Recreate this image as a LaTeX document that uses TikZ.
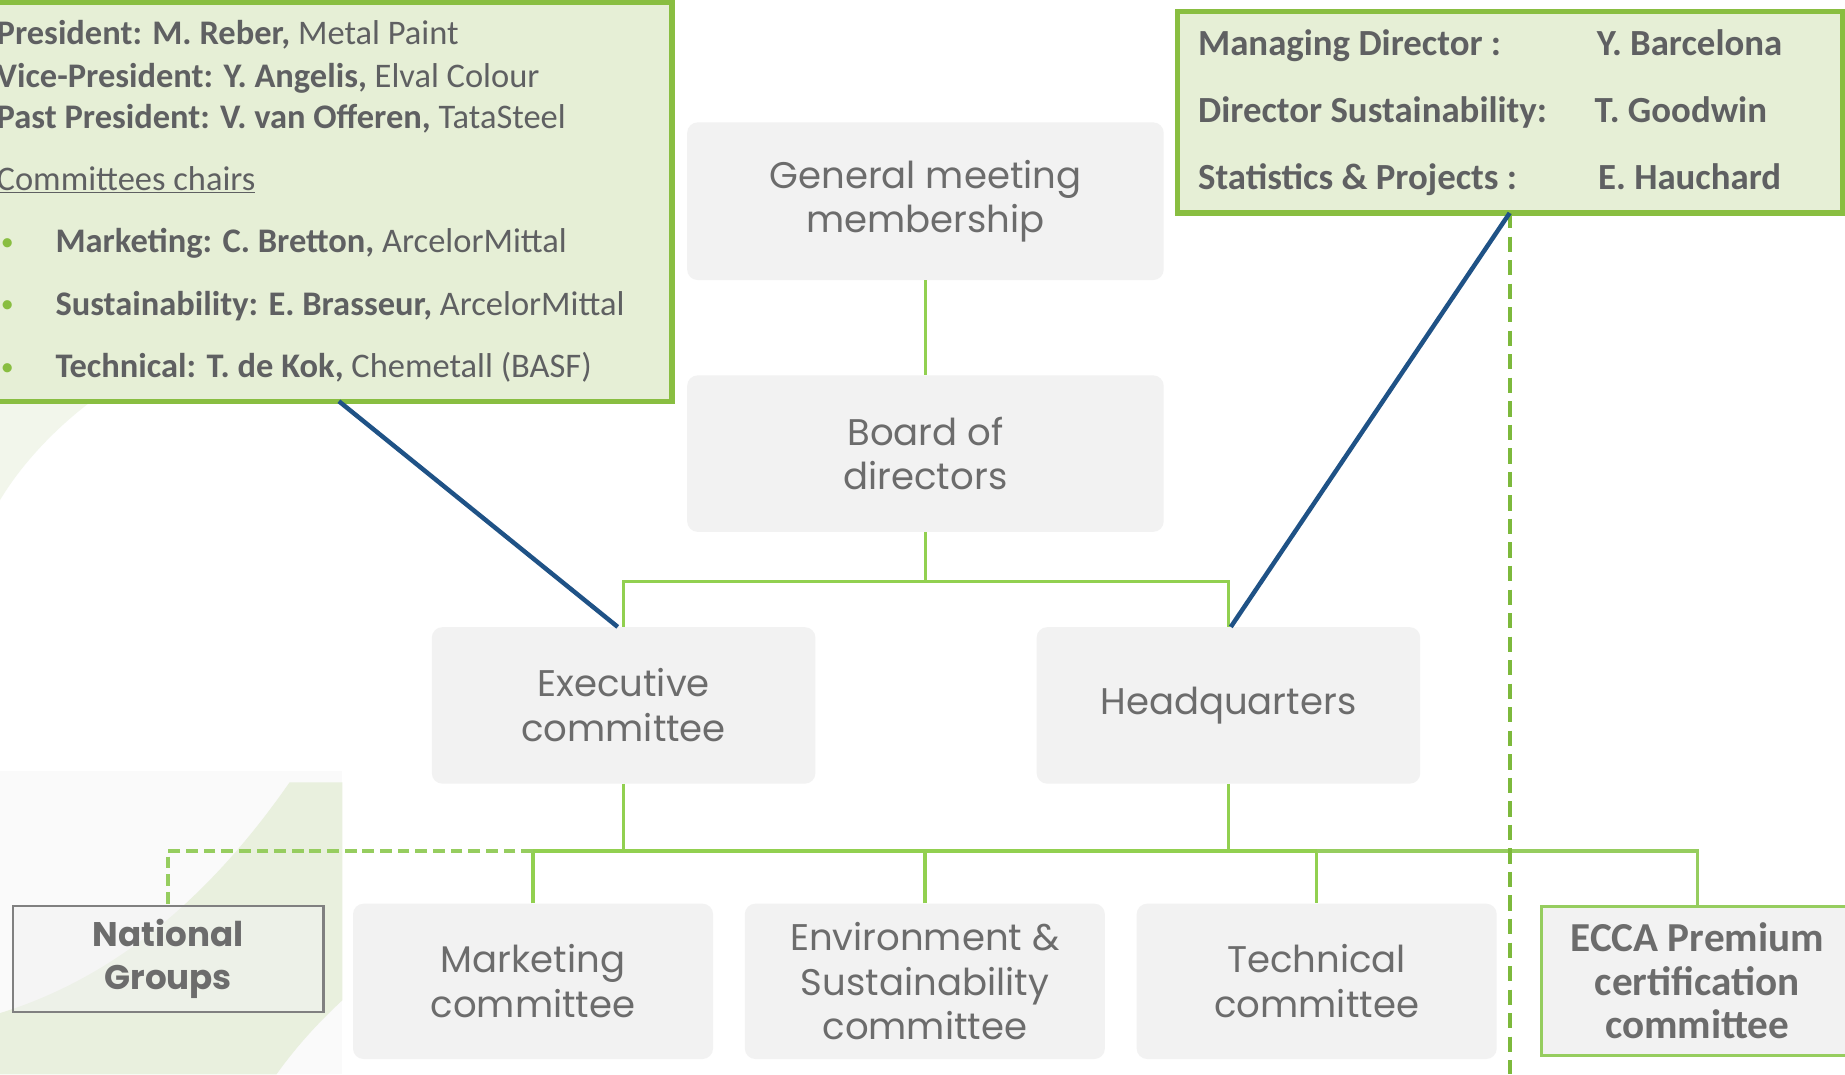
\documentclass[tikz,border=0pt]{standalone}
\usepackage{fontspec}
\setmainfont{Carlito}
\newfontfamily\gothic{Poppins}
\usetikzlibrary{calc}
\definecolor{lgreen}{RGB}{230,239,214}
\definecolor{bgreen}{RGB}{137,190,65}
\definecolor{lime}{RGB}{146,208,80}
\definecolor{lime2}{RGB}{150,205,95}
\definecolor{dgreen}{RGB}{125,185,60}
\definecolor{boxgray}{RGB}{242,242,242}
\definecolor{txtgray}{RGB}{108,108,108}
\definecolor{dtxt}{RGB}{95,96,98}
\definecolor{navy}{RGB}{31,82,134}
\definecolor{swoosh}{RGB}{233,240,222}
\tikzset{
  graybox/.style={rectangle, rounded corners=9pt, fill=boxgray, align=center, text=txtgray,
    font=\gothic\fontsize{31.5}{38}\selectfont, inner sep=0pt},
  link/.style={draw=lime, line width=3pt},
  link2/.style={draw=lime2, line width=3pt},
  dashlink/.style={draw=lime2, line width=3pt, dash pattern=on 10pt off 5pt},
  vdash/.style={draw=dgreen, line width=3.5pt, dash pattern=on 13pt off 7pt},
  callout/.style={draw=navy, line width=3.8pt},
  infobox/.style={rectangle, draw=bgreen, line width=4.5pt, fill=lgreen, inner sep=0pt},
  infotext/.style={anchor=base west, inner sep=0pt, text=dtxt, font=\fontsize{29.3}{35}\selectfont},
  hqtext/.style={anchor=base west, inner sep=0pt, text=dtxt, font=\bfseries\fontsize{31.3}{37}\selectfont},
  bullet/.style={anchor=base west, inner sep=0pt, text=bgreen, font=\fontsize{22}{35}\selectfont}
}
\begin{document}
\begin{tikzpicture}[x=1pt,y=-1pt]
\useasboundingbox (0,0) rectangle (1568,913);
\fill[white] (0,0) rectangle (1568,913);
% background swooshes
\fill[black!2] (0,655) rectangle (291,913);
\fill[swoosh] (246,665) .. controls (180,760) and (100,830) .. (0,861) -- (0,913) -- (235,913)
  .. controls (255,885) and (275,865) .. (291,850) -- (291,665) -- cycle;
\fill[swoosh!60] (0,343) -- (75,343) .. controls (40,370) and (15,400) .. (0,425) -- cycle;

% info boxes
\node[infobox, minimum width=585pt, minimum height=339pt] (lb) at (278.5,171.5) {};
\node[infobox, minimum width=565pt, minimum height=171pt] (rb) at (1283.5,95.5) {};

% left box text
\node[infotext] (l1) at (-3,38) {\textbf{President: M. Reber,} Metal Paint};
\node[infotext] (l2) at (-3,74) {\textbf{Vice-President: Y. Angelis,} Elval Colour};
\node[infotext] (l3) at (-3,109) {\textbf{Past President: V. van Offeren,} TataSteel};
\node[infotext] (l4) at (-3,162) {\underline{Committees chairs}};
\node[bullet] (b1) at (0.5,213) {•};
\node[bullet] (b2) at (0.5,266) {•};
\node[bullet] (b3) at (0.5,319) {•};
\node[infotext] (l5) at (47,215) {\textbf{Marketing: C. Bretton,} ArcelorMittal};
\node[infotext] (l6) at (47,268) {\textbf{Sustainability: E. Brasseur,} ArcelorMittal};
\node[infotext] (l7) at (47,321) {\textbf{Technical: T. de Kok,} Chemetall (BASF)};

% right box text
\node[hqtext] (r1) at (1018,47) {Managing Director :};
\node[hqtext] (r2) at (1018,104) {Director Sustainability:};
\node[hqtext] (r3) at (1018,161) {Statistics \& Projects :};
\node[hqtext] (n1) at (1357,47) {Y. Barcelona};
\node[hqtext] (n2) at (1355,104) {T. Goodwin};
\node[hqtext] (n3) at (1358,161) {E. Hauchard};

% gray boxes
\node[graybox, minimum width=405pt, minimum height=134pt] (gm) at (786.5,171) {General meeting\\membership};
\node[graybox, minimum width=405pt, minimum height=133pt] (bod) at (786.5,385.5) {Board of\\directors};
\node[graybox, minimum width=326pt, minimum height=133pt] (exec) at (530,599.5) {Executive\\committee};
\node[graybox, minimum width=326pt, minimum height=133pt] (hq) at (1044,599.5) {Headquarters};
\node[graybox, minimum width=306pt, minimum height=132pt] (mkt) at (453,834) {Marketing\\committee};
\node[graybox, minimum width=306pt, minimum height=132pt] (env) at (786,834) {Environment \&\\Sustainability\\committee};
\node[graybox, minimum width=306pt, minimum height=132pt] (tech) at (1119,834) {Technical\\committee};
\node[rectangle, draw=black!50, line width=2pt, fill=boxgray, fill opacity=0.55, text opacity=1,
  minimum width=264pt, minimum height=90pt, align=center, text=txtgray, inner sep=0pt,
  font=\gothic\bfseries\fontsize{29}{37}\selectfont] (nat) at (143,815) {National\\Groups};
\node[rectangle, draw=lime2, line width=2.5pt, fill=boxgray, minimum width=265pt, minimum height=127pt,
  align=center, text=txtgray, inner sep=0pt, font=\bfseries\fontsize{35}{37}\selectfont] (ecca) at (1442.5,833.5)
  {ECCA Premium\\certification\\committee};

% connectors
\coordinate (bj) at (786.5,494);
\coordinate (cj) at (786,723);
\draw[link] (gm.south) -- (bod.north);
\draw[link] (bod.south) -- (bj);
\draw[link] (exec.north) |- (bj) -| (hq.north);
\draw[link] (exec.south) -- (exec.south |- cj);
\draw[link] (hq.south) -- (hq.south |- cj);
\draw[link] (mkt.north) |- (tech.north |- cj) -- (tech.north);
\draw[link] (env.north) -- (env.north |- cj);
\draw[link2] (tech.north |- cj) -| (ecca.north);
\draw[dashlink] (mkt.north |- cj) -| (nat.north);

% dashed vertical from headquarters box
\coordinate (rbfoot) at (1283,181);
\coordinate (dashend) at (1283,913);
\draw[vdash] (rbfoot) -- (dashend);

% callouts
\coordinate (lbfoot) at (288,341);
\draw[callout] (lbfoot) -- ($(exec.north)+(-5,0)$);
\draw[callout] (rbfoot) -- ($(hq.north)+(2,0)$);
\end{tikzpicture}
\end{document}
